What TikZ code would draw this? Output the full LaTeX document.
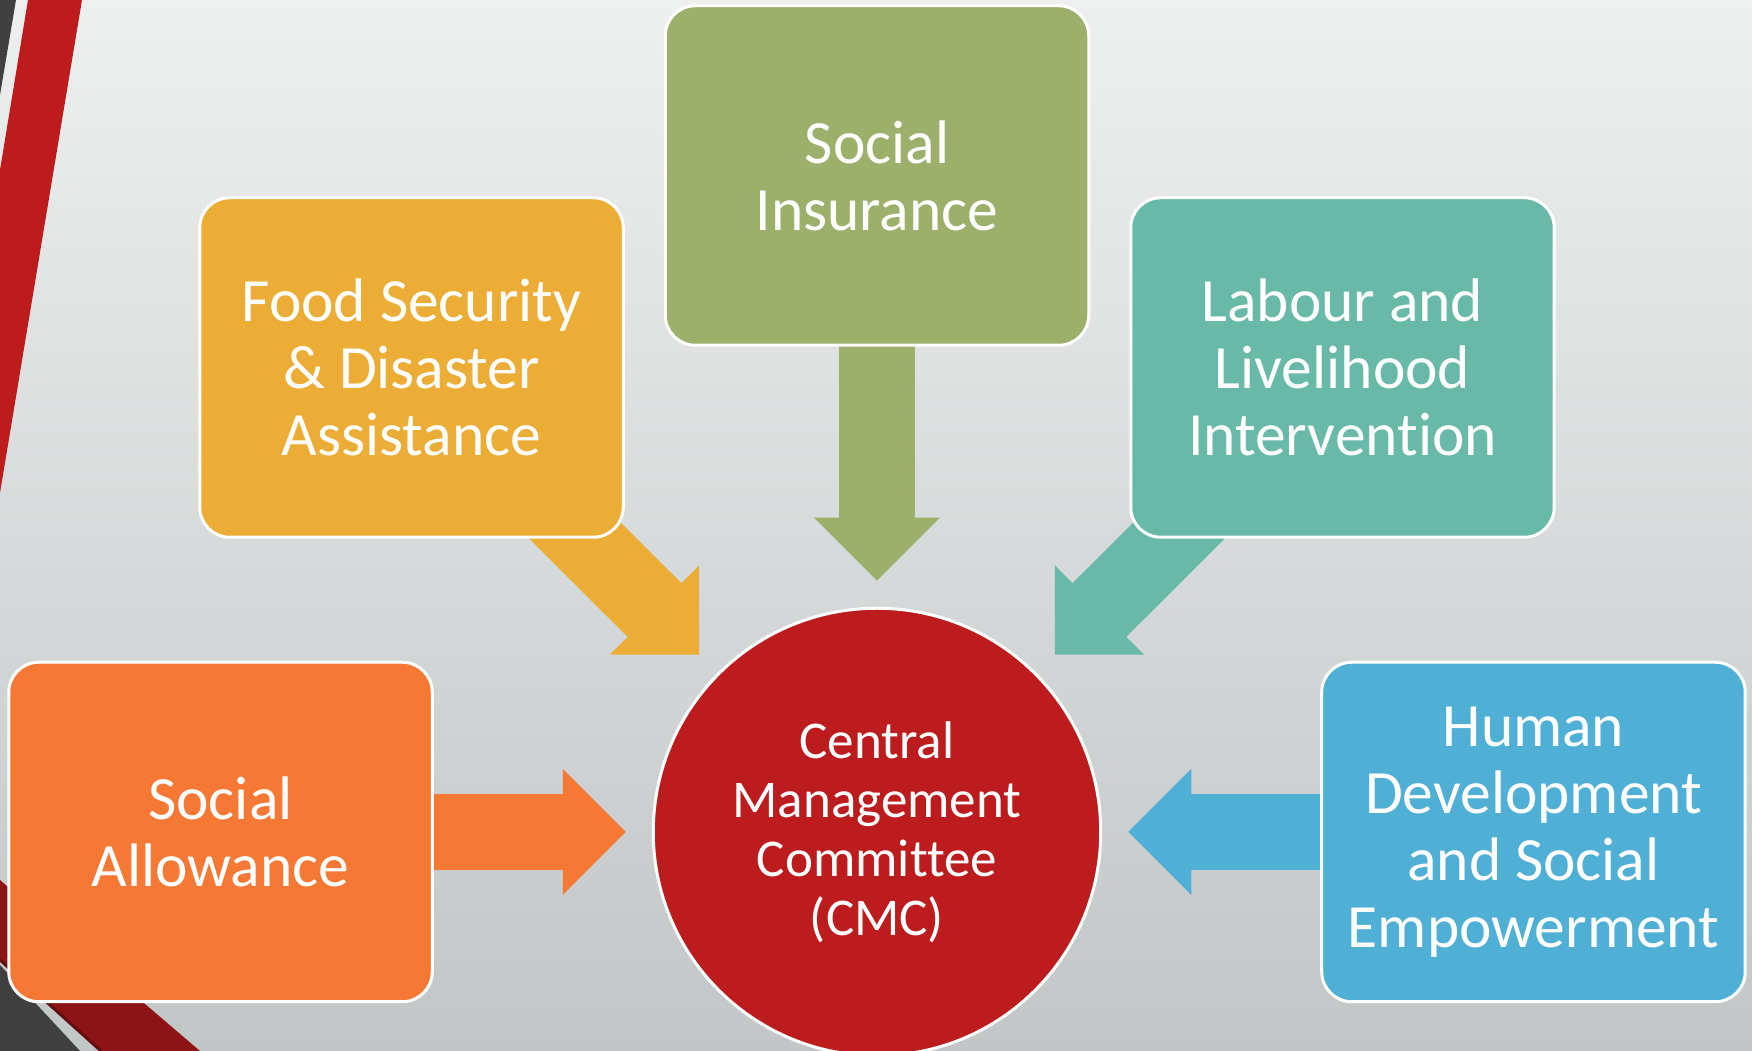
\documentclass[tikz,border=0pt]{standalone}
\usepackage{fontspec}
\setmainfont{Carlito}[Ligatures=NoCommon]
\usetikzlibrary{positioning, arrows.meta}
\definecolor{bgtop}{RGB}{238,239,239}
\definecolor{bgbot}{RGB}{194,198,199}
\definecolor{cmcred}{RGB}{188,28,30}
\definecolor{darkred}{RGB}{140,20,23}
\definecolor{slate}{RGB}{64,64,64}
\definecolor{insgreen}{RGB}{157,176,107}
\definecolor{foodgold}{RGB}{235,173,54}
\definecolor{labteal}{RGB}{104,185,167}
\definecolor{allorange}{RGB}{246,120,53}
\definecolor{humblue}{RGB}{80,175,213}
\newcommand\wa{42.35mm}
\newcommand\ha{33.95mm}
\newcommand\rc{3mm}
\pgfdeclarelayer{bg}
\pgfdeclarelayer{links}
\pgfsetlayers{bg,links,main}

\begin{document}
\begin{tikzpicture}[x=0.1mm, y=-0.1mm,
    box/.style={draw=white, line width=0.3mm, fill=#1, rounded corners=\rc, minimum width=\wa, minimum height=\ha, text=white, align=center, font=\fontsize{17.5}{19.1}\selectfont},
    link/.style={draw=#1, line width=7.6mm, shorten >=2.6mm, -{Triangle[length=6.3mm, width=12.6mm, line width=0pt]}}]
    \useasboundingbox (0,0) rectangle (1752,1051);

    % slide background and the corner stripes
    \begin{pgfonlayer}{bg}
    \fill[top color=bgtop, bottom color=bgbot] (0,0) rectangle (1752,1051);
    \fill[slate] (0,0) -- (16,0) -- (0,95) -- cycle;
    \fill[cmcred] (28,0) -- (82,0) -- (0,493) -- (0,170) -- cycle;
    \fill[darkred] (0,880) -- (200,1051) -- (101,1051) -- (0,960) -- cycle;
    \draw[darkred!70!black, line width=0.3mm] (0,960) -- (101,1051);
    \fill[slate] (0,965) -- (80,1051) -- (0,1051) -- cycle;
    \end{pgfonlayer}

    \node (cmc) [circle, draw=white, line width=0.3mm, fill=cmcred, minimum size=44.75mm, text=white, align=center, font=\fontsize{15.1}{16.8}\selectfont] at (877,832) {Central\\Management\\Committee\\(CMC)};

    \node (insur) [box=insgreen, above=26mm of cmc] {Social\\Insurance};
    \node (food) [box=foodgold, left=3.9mm of insur, yshift=-19.2mm] {Food Security\\\& Disaster\\Assistance};
    \node (labour) [box=labteal, right=3.9mm of insur, yshift=-19.2mm] {Labour and\\Livelihood\\Intervention};
    \node (allow) [box=allorange, left=21.8mm of cmc] {Social\\Allowance};
    \node (humdev) [box=humblue, right=21.8mm of cmc] {Human\\Development\\and Social\\Empowerment};

    \begin{pgfonlayer}{links}
    \draw[link=insgreen] (insur.center) -- (cmc);
    \draw[link=foodgold] (food.center) -- (cmc);
    \draw[link=labteal] (labour.center) -- (cmc);
    \draw[link=allorange] (allow.center) -- (cmc);
    \draw[link=humblue] (humdev.center) -- (cmc);
    \end{pgfonlayer}

\end{tikzpicture}
\end{document}
